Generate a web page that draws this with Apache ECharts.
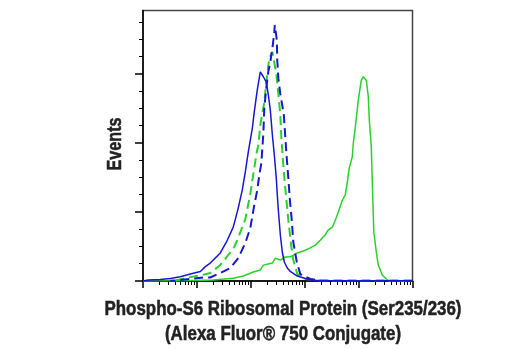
<!DOCTYPE html>
<html>
<head>
<meta charset="utf-8">
<script src="https://cdn.jsdelivr.net/npm/echarts@6/dist/echarts.min.js"></script>
<style>
html,body{margin:0;padding:0;background:#fff;}
#chart{width:520px;height:350px;}
</style>
</head>
<body>
<div id="chart"></div>
<script>
// Fluorescence intensity (log scale, decades 10^0..10^5) vs Events
const xDecades = [1, 10, 100, 1000, 10000, 100000];
const yMajorTicks = [0, 100, 200, 300];
const yMinorTicks = [25, 50, 75, 125, 150, 175, 225, 250, 275, 325, 350, 375];
const yMax = 392;
const xTitle1 = 'Phospho-S6 Ribosomal Protein (Ser235/236)';
const xTitle2 = '(Alexa Fluor® 750 Conjugate)';
const yTitle = 'Events';

const blueSolid = [
  [1, 0], [1.25, 1.4], [2.09, 2.2], [3.21, 3.6], [4.92, 6.2], [7.55, 10], [11.6, 13.8],
  [14.3, 20.8], [17.7, 26], [27.2, 40.6], [36.6, 59], [47.3, 78], [58.6, 106],
  [69.5, 132], [79.1, 158], [89.9, 187], [107, 222], [116, 245], [132, 277],
  [150, 303], [171, 296], [194, 288], [211, 270], [230, 248], [251, 212],
  [273, 183], [297, 149], [310, 125], [324, 103], [353, 67], [384, 42],
  [419, 27.5], [475, 18.8], [541, 13.8], [729, 7.2], [1270, 1.4], [1946, 0.5],
  [5000, 0.3], [100000, 0.3]
];
const blueDashed = [
  [3.21, 0.4], [4.92, 1.4], [7.55, 2.9], [13.1, 5.1], [17.7, 5.1], [27.2, 11.6],
  [41.7, 18.8], [58.6, 33.3], [79.1, 55], [97.9, 76.8], [116, 110], [132, 132],
  [144, 154], [157, 171], [163, 190], [171, 214], [178, 251], [194, 280],
  [211, 303], [230, 317], [256, 342], [273, 361], [279, 371], [304, 349],
  [310, 320], [324, 294], [353, 271], [410, 241], [436, 209], [465, 178],
  [497, 149], [529, 119], [576, 88], [614, 56.5], [713, 27.5], [829, 10],
  [1270, 2.9], [1946, 0.7], [5000, 0.3], [100000, 0.3]
];
const greenDashed = [
  [3.97, 0.7], [6.92, 5.1], [12.6, 8.7], [17.7, 11.6], [27.2, 23.2], [38.3, 37.7],
  [49.4, 49.3], [61.2, 66.7], [79.1, 89.8], [97.9, 126], [116, 164], [129, 187],
  [138, 197], [150, 226], [178, 259], [194, 288], [220, 323], [251, 332],
  [297, 301], [324, 271], [353, 241], [368, 209], [392, 178], [419, 149],
  [456, 119], [497, 88], [552, 56.5], [614, 30.4], [729, 10], [1026, 2.9],
  [1946, 0.7], [5000, 0.3], [100000, 0.3]
];
const greenSolid = [
  [1, 0], [5.6, 0.4], [20.2, 1.4], [47.3, 3.9], [72.6, 7.2], [111, 13], [150, 16],
  [171, 23], [251, 26], [285, 33], [353, 30.4], [436, 34.8], [541, 35],
  [729, 40.6], [942, 43.5], [1270, 48], [1573, 52], [1946, 59], [2411, 67],
  [2741, 74], [3251, 78], [3697, 88], [4202, 100], [4987, 117], [5666, 125],
  [6169, 143], [6718, 164], [7641, 180], [7980, 200], [8690, 223], [9869, 262],
  [11220, 291], [12220, 296], [13900, 291], [15140, 267], [15800, 233],
  [17210, 194], [17580, 168], [18340, 120], [19140, 71], [21300, 42],
  [23190, 23], [27530, 8.7], [34070, 1.4], [38700, 0], [100000, 0]
];

const BLUE = '#1717d4';
const GREEN = '#2ad12a';
const FONT = 'bold 20px "Liberation Sans", Arial, sans-serif';

const majorLog = xDecades.map(v => Math.log10(v));
const minorLog = [];
for (let i = 0; i < xDecades.length - 1; i++) {
  for (let m = 2; m <= 9; m++) minorLog.push(Math.log10(xDecades[i] * m));
}

// condensed look: squeeze text horizontally to the reference widths
const mctx = document.createElement('canvas').getContext('2d');
mctx.font = FONT;
const sx1 = 357 / mctx.measureText(xTitle1).width;
const sy = 53 / mctx.measureText(yTitle).width;

const chart = echarts.init(document.getElementById('chart'), null, {renderer: 'canvas'});
const hiddenAxisBits = {axisLabel: {show: false}, splitLine: {show: false}};
const textBits = {font: FONT, fill: '#222', stroke: '#222', lineWidth: 0.5};
chart.setOption({
  animation: false,
  grid: {left: 143, right: 107.5, top: 10.5, bottom: 69, show: true,
         borderColor: '#444', borderWidth: 1.5, backgroundColor: 'transparent'},
  xAxis: [
    {type: 'log', min: xDecades[0], max: xDecades[xDecades.length - 1], logBase: 10,
     show: false, position: 'bottom'},
    Object.assign({type: 'value', min: 0, max: 5, position: 'bottom',
     axisLine: {show: true, onZero: false, lineStyle: {color: '#000', width: 1.5}},
     axisTick: {show: true, customValues: majorLog, length: 7, lineStyle: {color: '#000', width: 1.5}}}, hiddenAxisBits),
    Object.assign({type: 'value', min: 0, max: 5, position: 'bottom',
     axisLine: {show: false, onZero: false},
     axisTick: {show: true, customValues: minorLog, length: 4, lineStyle: {color: '#000', width: 1}}}, hiddenAxisBits)
  ],
  yAxis: [
    Object.assign({type: 'value', min: 0, max: yMax, position: 'left',
     axisLine: {show: true, onZero: false, lineStyle: {color: '#000', width: 1.5}},
     axisTick: {show: true, customValues: yMajorTicks, length: 8, lineStyle: {color: '#000', width: 1.5}}}, hiddenAxisBits),
    Object.assign({type: 'value', min: 0, max: yMax, position: 'left',
     axisLine: {show: false, onZero: false},
     axisTick: {show: true, customValues: yMinorTicks, length: 4, lineStyle: {color: '#000', width: 1}}}, hiddenAxisBits)
  ],
  series: [
    {type: 'line', name: 'green solid', data: greenSolid, xAxisIndex: 0, yAxisIndex: 0,
     showSymbol: false, lineStyle: {color: GREEN, width: 1.5}},
    {type: 'line', name: 'green dashed', data: greenDashed, xAxisIndex: 0, yAxisIndex: 0,
     showSymbol: false, lineStyle: {color: GREEN, width: 2, type: [9, 5]}},
    {type: 'line', name: 'blue solid', data: blueSolid, xAxisIndex: 0, yAxisIndex: 0,
     showSymbol: false, lineStyle: {color: BLUE, width: 1.5}},
    {type: 'line', name: 'blue dashed', data: blueDashed, xAxisIndex: 0, yAxisIndex: 0,
     showSymbol: false, lineStyle: {color: BLUE, width: 2, type: [9, 5], dashOffset: 4}}
  ],
  graphic: [
    {type: 'text', x: 283, y: 297, scaleX: sx1, style: Object.assign({
      text: xTitle1 + '\n' + xTitle2, align: 'center', verticalAlign: 'top', lineHeight: 25}, textBits)},
    {type: 'text', x: 115, y: 144, rotation: Math.PI / 2, scaleX: sy, style: Object.assign({
      text: yTitle, align: 'center', verticalAlign: 'middle'}, textBits)}
  ]
});
</script>
</body>
</html>
